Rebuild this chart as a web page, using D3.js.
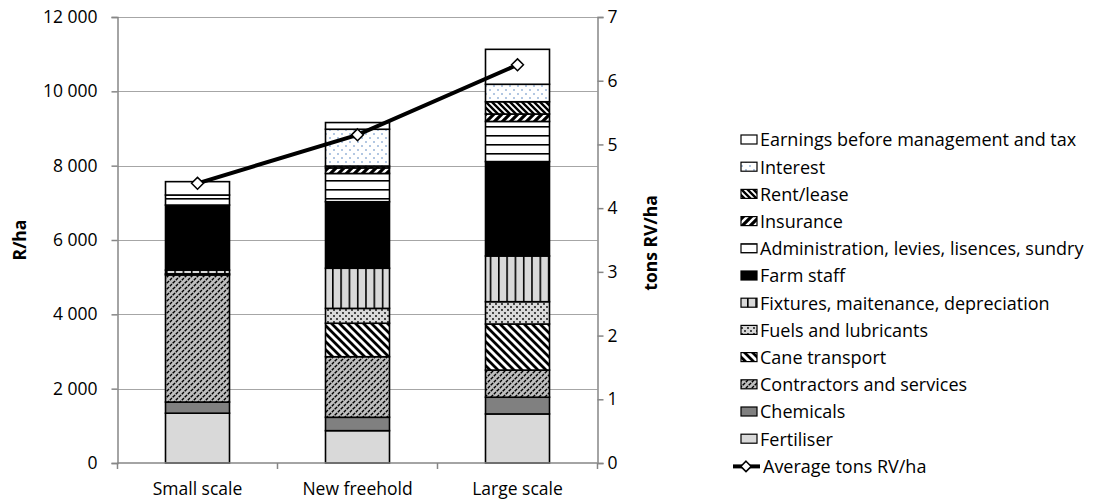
<!DOCTYPE html>
<html><head><meta charset="utf-8">
<script src="https://cdn.jsdelivr.net/npm/d3@7/dist/d3.min.js"></script>
<style>body{margin:0;background:#fff}svg{display:block;font-family:"Open Sans",sans-serif}</style>
</head><body><svg id="c" width="1101" height="499"></svg>
<script>
const categories = ["Small scale", "New freehold", "Large scale"];
const fertiliser   = [1340, 870, 1320];
const chemicals    = [300, 360, 450];
const contractors  = [3420, 1630, 730];
const caneTransport= [0, 900, 1240];
const fuels        = [30, 400, 600];
const fixtures     = [100, 1080, 1230];
const farmStaff    = [1750, 1790, 2540];
const admin        = [270, 760, 1080];
const insurance    = [0, 150, 200];
const rentLease    = [0, 50, 330];
const interest     = [0, 990, 470];
const earnings     = [360, 180, 940];
const avgTons      = [4.39, 5.15, 6.25];
const leftTicks  = [0, 2000, 4000, 6000, 8000, 10000, 12000];
const rightTicks = [0, 1, 2, 3, 4, 5, 6, 7];

const seriesNames = ["Fertiliser","Chemicals","Contractors and services","Cane transport","Fuels and lubricants",
  "Fixtures, maitenance, depreciation","Farm staff","Administration, levies, lisences, sundry","Insurance",
  "Rent/lease","Interest","Earnings before management and tax"];
const seriesVals = [fertiliser, chemicals, contractors, caneTransport, fuels, fixtures, farmStaff, admin,
  insurance, rentLease, interest, earnings];
const fills = ["#d9d9d9","#808080","url(#pContr)","url(#pCane)","url(#pFuel)","url(#pFix)","#000000",
  "url(#pAdmin)","url(#pIns)","url(#pRent)","url(#pInt)","#ffffff"];

const FS = 17.5, LFS = 18;
const svg = d3.select("#c");
const defs = svg.append("defs");
function pat(id, w, h, bg, draw){
  const p = defs.append("pattern").attr("id", id).attr("patternUnits","userSpaceOnUse").attr("width", w).attr("height", h);
  p.append("rect").attr("width", w).attr("height", h).attr("fill", bg);
  draw(p);
}
pat("pContr", 6, 6, "#bfbfbf", p => {
  p.append("path").attr("d","M-1,7 L7,-1 M-1,1 L1,-1 M5,7 L7,5").attr("stroke","#000").attr("stroke-width",1.4).attr("stroke-dasharray","3,1");
});
pat("pCane", 8, 8, "#fff", p => {
  p.append("path").attr("d","M-1,-1 L9,9 M-5,3 L5,13 M3,-5 L13,5").attr("stroke","#000").attr("stroke-width",2.8);
});
pat("pRent", 6, 6, "#fff", p => {
  p.append("path").attr("d","M-1,-1 L7,7 M-4,2 L4,10 M2,-4 L10,4").attr("stroke","#000").attr("stroke-width",2.4);
});
pat("pIns", 8, 8, "#fff", p => {
  p.append("path").attr("d","M-1,9 L9,-1 M-5,5 L5,-5 M3,13 L13,3").attr("stroke","#000").attr("stroke-width",3.2);
});
pat("pFuel", 6, 6, "#d9d9d9", p => {
  p.append("circle").attr("cx",1).attr("cy",1).attr("r",0.9).attr("fill","#000");
  p.append("circle").attr("cx",4).attr("cy",4).attr("r",0.9).attr("fill","#000");
});
pat("pFix", 8.3, 8, "#d9d9d9", p => {
  p.append("rect").attr("x",0).attr("y",0).attr("width",1.6).attr("height",8).attr("fill","#000");
});
pat("pAdmin", 8, 9, "#fff", p => {
  p.append("rect").attr("x",0).attr("y",0).attr("width",8).attr("height",1.6).attr("fill","#000");
});
pat("pInt", 8, 8, "#fff", p => {
  p.append("circle").attr("cx",2).attr("cy",2).attr("r",0.8).attr("fill","#4f81bd");
  p.append("circle").attr("cx",6).attr("cy",6).attr("r",0.8).attr("fill","#4f81bd");
});

const pLeft = 117.5, pRight = 597.5, pTop = 17, pBottom = 463;
const x = d3.scaleBand().domain(categories).range([pLeft, pRight]).paddingInner(0.6).paddingOuter(0.3);
const y = d3.scaleLinear().domain([0, 12000]).range([pBottom, pTop]);
const y2 = d3.scaleLinear().domain([0, 7]).range([pBottom, pTop]);
const axisCol = "#868686";

// gridlines
svg.append("g").selectAll("line").data(leftTicks.filter(d => d > 0)).join("line")
  .attr("x1", pLeft).attr("x2", pRight).attr("y1", d => Math.round(y(d)) + 0.5).attr("y2", d => Math.round(y(d)) + 0.5)
  .attr("stroke", "#a6a6a6").attr("stroke-width", 1.2);

// stacked bars
const table = categories.map((c, i) => { const o = {cat: c}; seriesNames.forEach((s, k) => o[s] = seriesVals[k][i]); return o; });
const stack = d3.stack().keys(seriesNames)(table);
svg.append("g").selectAll("g").data(stack).join("g")
  .attr("fill", (d, k) => fills[k])
  .selectAll("rect").data(d => d.filter(v => v[1] - v[0] > 0)).join("rect")
  .attr("x", d => x(d.data.cat)).attr("width", x.bandwidth())
  .attr("y", d => y(d[1])).attr("height", d => y(d[0]) - y(d[1]))
  .attr("stroke", "#000").attr("stroke-width", 1.6);

// axes
const fmt = d => d3.format(",")(d).replace(/,/g, " ");
const gl = svg.append("g").attr("transform", `translate(${pLeft},0)`)
  .call(d3.axisLeft(y).tickValues(leftTicks).tickSize(6).tickPadding(14).tickFormat(fmt));
const gr = svg.append("g").attr("transform", `translate(${pRight},0)`)
  .call(d3.axisRight(y2).tickValues(rightTicks).tickSize(6).tickPadding(4).tickFormat(d3.format("d")));
const xTicks = [pLeft, pLeft + x.step(), pLeft + 2 * x.step(), pRight];
const gb = svg.append("g").attr("transform", `translate(0,${pBottom})`)
  .call(d3.axisBottom(x).tickSize(0).tickPadding(20));
gb.selectAll(".tick-mark").data(xTicks).join("line").attr("class","tick-mark")
  .attr("x1", d => d).attr("x2", d => d).attr("y1", 0).attr("y2", 6).attr("stroke", axisCol).attr("stroke-width", 1.5);
[gl, gr, gb].forEach(g => {
  g.select(".domain").attr("stroke", axisCol).attr("stroke-width", 1.5);
  g.selectAll(".tick line").attr("stroke", axisCol).attr("stroke-width", 1.5);
  g.selectAll("text").attr("font-family", "'Open Sans', sans-serif").attr("font-size", FS).attr("fill", "#000");
});
gb.select(".domain").attr("d", `M${pLeft},0H${pRight}`);

// axis titles
svg.append("text").attr("transform", "translate(26,240) rotate(-90)").attr("text-anchor","middle")
  .attr("font-size", FS).attr("font-weight","bold").text("R/ha");
svg.append("text").attr("transform", "translate(657,243) rotate(-90)").attr("text-anchor","middle")
  .attr("font-size", FS).attr("font-weight","bold").text("tons  RV/ha");

// line
const line = d3.line().x((d, i) => x(categories[i]) + x.bandwidth() / 2).y(d => y2(d));
svg.append("path").datum(avgTons).attr("d", line).attr("fill","none").attr("stroke","#000").attr("stroke-width", 4);
svg.append("g").selectAll("path").data(avgTons).join("path")
  .attr("transform", (d, i) => `translate(${x(categories[i]) + x.bandwidth() / 2},${y2(d)})`)
  .attr("d", d3.symbol(d3.symbolDiamond2, 90)).attr("fill","#fff").attr("stroke","#000").attr("stroke-width",1.5);

// legend
const legItems = seriesNames.map((s, k) => ({name: s, fill: fills[k]})).reverse();
const lg = svg.append("g");
const ly0 = 140, lstep = 27.2;
legItems.forEach((it, i) => {
  const yy = ly0 + i * lstep;
  lg.append("rect").attr("x", 741).attr("y", yy - 5).attr("width", 16).attr("height", 9)
    .attr("fill", it.fill).attr("stroke","#000").attr("stroke-width",1.2);
  lg.append("text").attr("x", 760).attr("y", yy).attr("dy","0.35em").attr("font-size",LFS).text(it.name);
});
{
  const yy = ly0 + 12 * lstep;
  lg.append("line").attr("x1", 733).attr("x2", 760).attr("y1", yy).attr("y2", yy).attr("stroke","#000").attr("stroke-width",4);
  lg.append("path").attr("transform", `translate(746,${yy})`).attr("d", d3.symbol(d3.symbolDiamond2, 70))
    .attr("fill","#fff").attr("stroke","#000").attr("stroke-width",1.5);
  lg.append("text").attr("x", 763).attr("y", yy).attr("dy","0.35em").attr("font-size",LFS).text("Average tons RV/ha");
}
</script></body></html>
